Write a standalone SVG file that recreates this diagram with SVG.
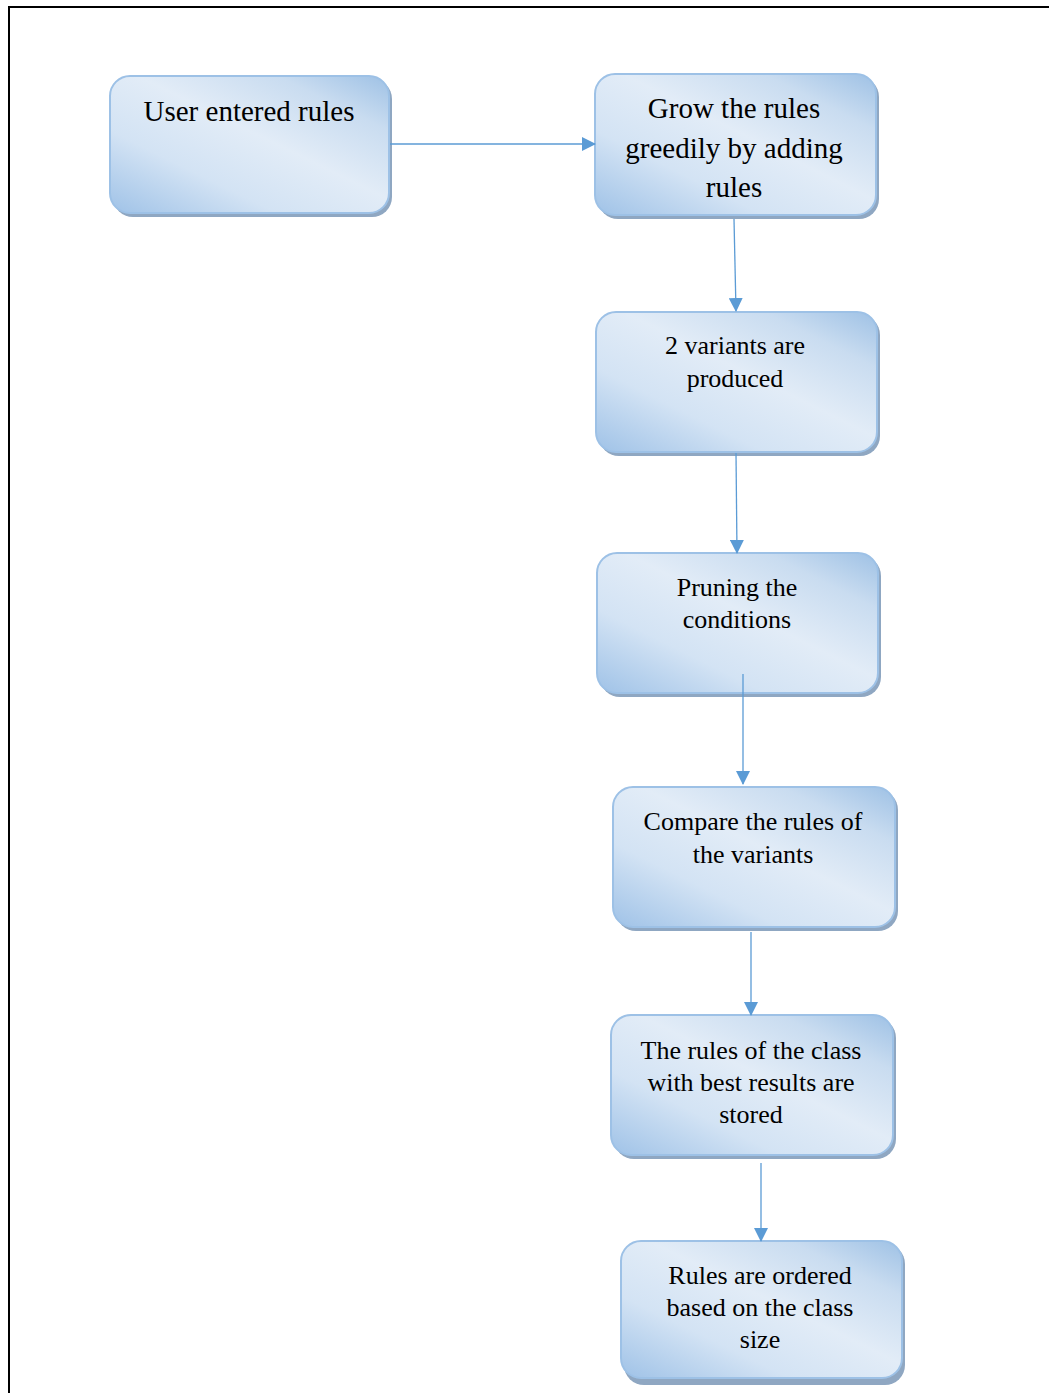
<svg xmlns="http://www.w3.org/2000/svg" width="1049" height="1393" viewBox="0 0 1049 1393">
<defs>
<linearGradient id="fill" x1="0" y1="1" x2="1" y2="0">
<stop offset="0" stop-color="#9fc2e7"/>
<stop offset="0.3" stop-color="#d3e3f4"/>
<stop offset="0.55" stop-color="#e2ecf7"/>
<stop offset="0.8" stop-color="#c9dcf0"/>
<stop offset="1" stop-color="#9ec1e5"/>
</linearGradient>
<marker id="arr" markerWidth="14" markerHeight="14" refX="13" refY="7" orient="auto" markerUnits="userSpaceOnUse">
<path d="M0,0 L14,7 L0,14 Z" fill="#5b9bd5"/>
</marker>
</defs>
<style>
.shadow{fill:#8fa7c2}
.box{fill:url(#fill);stroke:#9dc1e6;stroke-width:2}
.t29{font-family:"Liberation Serif","Times New Roman",serif;font-size:29px;fill:#000;text-anchor:middle}
.t26{font-family:"Liberation Serif","Times New Roman",serif;font-size:26px;fill:#000;text-anchor:middle}
.edge{stroke:#5b9bd5;stroke-width:1.3;fill:none;marker-end:url(#arr)}
</style>
<rect x="0" y="0" width="1049" height="1393" fill="#fff"/>
<path d="M9,1393 V7 H1049" fill="none" stroke="#000" stroke-width="2"/>

<g id="n1">
<rect class="shadow" x="113" y="79" width="279" height="138" rx="20"/>
<rect class="box" x="110" y="76" width="279" height="137" rx="20"/>
<text class="t29" x="249" y="121">User entered rules</text>
</g>
<g id="n2">
<rect class="shadow" x="598" y="77" width="281" height="142" rx="20"/>
<rect class="box" x="595" y="74" width="281" height="141" rx="20"/>
<text class="t29" x="734" y="118">Grow the rules</text>
<text class="t29" x="734" y="158">greedily by adding</text>
<text class="t29" x="734" y="197">rules</text>
</g>
<g id="n3">
<rect class="shadow" x="599" y="315" width="281" height="141" rx="20"/>
<rect class="box" x="596" y="312" width="281" height="140" rx="20"/>
<text class="t26" x="735" y="354">2 variants are</text>
<text class="t26" x="735" y="387">produced</text>
</g>
<g id="n4">
<rect class="shadow" x="600" y="556" width="281" height="141" rx="20"/>
<rect class="box" x="597" y="553" width="281" height="140" rx="20"/>
<text class="t26" x="737" y="596">Pruning the</text>
<text class="t26" x="737" y="628">conditions</text>
</g>
<g id="n5">
<rect class="shadow" x="616" y="790" width="282" height="141" rx="20"/>
<rect class="box" x="613" y="787" width="282" height="140" rx="20"/>
<text class="t26" x="753" y="830">Compare the rules of</text>
<text class="t26" x="753" y="863">the variants</text>
</g>
<g id="n6">
<rect class="shadow" x="614" y="1018" width="282" height="141" rx="20"/>
<rect class="box" x="611" y="1015" width="282" height="140" rx="20"/>
<text class="t26" x="751" y="1059">The rules of the class</text>
<text class="t26" x="751" y="1091">with best results are</text>
<text class="t26" x="751" y="1123">stored</text>
</g>
<g id="n7">
<rect class="shadow" x="624" y="1244" width="281" height="141" rx="20"/>
<rect class="box" x="621" y="1241" width="281" height="137" rx="20"/>
<text class="t26" x="760" y="1284">Rules are ordered</text>
<text class="t26" x="760" y="1316">based on the class</text>
<text class="t26" x="760" y="1348">size</text>
</g>

<g id="edges">
<line class="edge" x1="390" y1="144" x2="595" y2="144"/>
<line class="edge" x1="734" y1="219" x2="736" y2="311"/>
<line class="edge" x1="736" y1="453" x2="737" y2="553"/>
<line class="edge" x1="743" y1="674" x2="743" y2="784"/>
<line class="edge" x1="751" y1="932" x2="751" y2="1015"/>
<line class="edge" x1="761" y1="1163" x2="761" y2="1241"/>
</g>
</svg>
